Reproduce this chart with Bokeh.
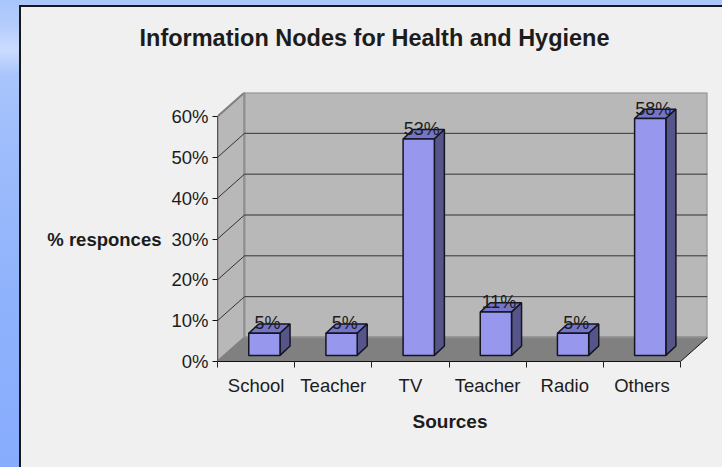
from bokeh.embed import file_html
from bokeh.resources import INLINE
from bokeh.plotting import figure
from bokeh.models import (Range1d, FixedTicker, Title, GlobalInlineStyleSheet)
from bokeh.core.properties import value

categories = ["School", "Teacher", "TV", "Teacher", "Radio", "Others"]
values = [5.4, 5.4, 53.0, 10.6, 5.4, 58.0]
data_labels = ["5%", "5%", "53%", "11%", "5%", "58%"]
y_ticks = [0, 10, 20, 30, 40, 50, 60]

FONT = "Liberation Sans"
TXT = "#1c1c1c"
DX, DY = 0.35, 5.88            # depth of the 3D box in data units
BAR_L, BAR_W = 0.405, 0.405    # bar front face inside its category
BAR_B = 1.5                    # front face base raised above the floor edge
BAR_DX, BAR_DY = 0.13, 2.3     # bar depth

css = """
html, body { height: 100%; overflow: hidden; }
html { background:
  linear-gradient(#f0f0f0,#f0f0f0) 21px 7px / 701px 460px no-repeat,
  linear-gradient(#15181c,#15181c) 19px 5px / 703px 462px no-repeat,
  linear-gradient(180deg,#a8c6fc 0px,#b4ccfd 25px,#ccdcff 50px,#a9c5fc 75px,#9dbcfb 150px,#8fb2fc 300px,#87acfc 467px); }
body { background: transparent; }
"""

p = figure(width=722, height=487, output_backend="svg", toolbar_location=None, margin=(-20, 0, 0, 0),
           x_range=Range1d(0, 490 / 77.17), y_range=Range1d(0, 269 / 4.0833),
           min_border_left=217, min_border_right=15, min_border_top=112, min_border_bottom=106,
           frame_width=490, frame_height=269)
p.stylesheets = [GlobalInlineStyleSheet(css=css)]
p.background_fill_color = None
p.border_fill_color = None
p.outline_line_color = None
p.grid.visible = False

n = len(categories)
top = y_ticks[-1]
# walls and floor
p.patch([0, DX, DX, 0], [0, DY, top + DY, top], fill_color="#b8b8b8", line_color="#808080", line_width=2)
p.patch([DX, n + DX, n + DX, DX], [DY, DY, top + DY, top + DY], fill_color="#b8b8b8", line_color="#909090", line_width=2)
p.patch([0, n, n + DX, DX], [0, 0, DY, DY], fill_color="#808080", line_color=None)
p.line([DX, n + DX], [DY, DY], line_color="#8c8c8c", line_width=2)
p.line([n, n + DX], [0, DY], line_color="#111111", line_width=1)
# gridlines
for v in y_ticks[1:-1]:
    p.line([0, DX, n + DX], [v, v + DY, v + DY], line_color="#333333", line_width=1)

# bars
for i, v in enumerate(values):
    l, r = i + BAR_L, i + BAR_L + BAR_W
    b = BAR_B
    t = v + BAR_B
    p.patch([l, r, r + BAR_DX, l + BAR_DX], [t, t, t + BAR_DY, t + BAR_DY],
            fill_color="#7474c8", line_color="#151520", line_width=1.5)
    p.patch([r, r + BAR_DX, r + BAR_DX, r], [b, b + BAR_DY, t + BAR_DY, t],
            fill_color="#55558a", line_color="#151520", line_width=1.5)
    p.quad(left=l, right=r, bottom=b, top=t, fill_color="#9797ee", line_color="#151520", line_width=1.5)

# data labels on top of every bar
for i, v in enumerate(values):
    x = i + BAR_L + BAR_W / 2 + 0.04
    p.text([x], [v + BAR_B], text=[data_labels[i]], text_font=value(FONT), text_font_size="18px",
           text_color=TXT, text_align="center", text_baseline="alphabetic", y_offset=-10, level="overlay")

# axes
ya = p.yaxis[0]
ya.ticker = FixedTicker(ticks=y_ticks)
ya.major_label_overrides = {v: f"{v}%" for v in y_ticks}
ya.bounds = (0, 60)
ya.axis_line_color = "#555555"
ya.major_tick_line_color = "#111111"
ya.major_tick_out = 5
ya.major_tick_in = 0
ya.minor_tick_line_color = None
ya.major_label_standoff = 4
ya.major_label_text_font = FONT
ya.major_label_text_font_size = "18.5px"
ya.major_label_text_color = TXT
ya.axis_label = "\n% responces"
ya.axis_label_orientation = "horizontal"
ya.axis_label_standoff = 7
ya.axis_label_text_font = FONT
ya.axis_label_text_font_size = "18.5px"
ya.axis_label_text_font_style = "bold"
ya.axis_label_text_color = TXT

xa = p.xaxis[0]
xa.ticker = FixedTicker(ticks=[i + 0.5 for i in range(n)], minor_ticks=list(range(n + 1)))
xa.major_label_overrides = {i + 0.5: c for i, c in enumerate(categories)}
xa.bounds = (0, n)
xa.axis_line_color = "#111111"
xa.major_tick_line_color = None
xa.minor_tick_line_color = "#222222"
xa.minor_tick_out = 6
xa.minor_tick_in = 0
xa.major_label_standoff = 7
xa.major_label_text_font = FONT
xa.major_label_text_font_size = "18.5px"
xa.major_label_text_color = TXT

p.add_layout(Title(text="Information Nodes for Health and Hygiene", align="left", offset=-78, standoff=84,
                   text_font=FONT, text_font_size="23.5px", text_font_style="bold", text_color=TXT), "above")
p.add_layout(Title(text="Sources", align="left", offset=195, standoff=21,
                   text_font=FONT, text_font_size="19px", text_font_style="bold", text_color=TXT), "below")

open("out.html", "w").write(file_html(p, INLINE))
